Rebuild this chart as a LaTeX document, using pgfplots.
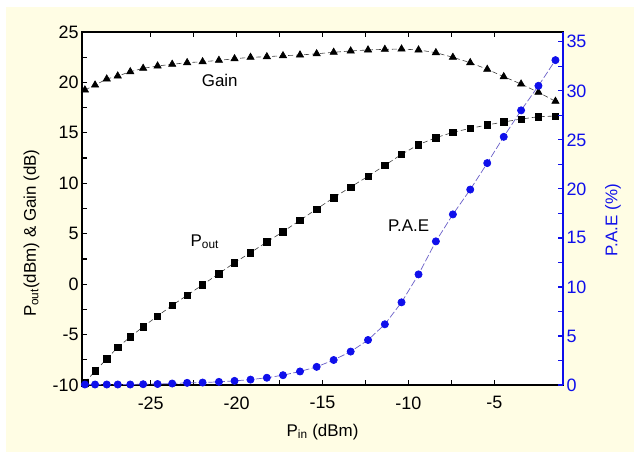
\documentclass[border=0pt]{standalone}
\usepackage{fontspec}
\setmainfont{Liberation Sans}
\usepackage{pgfplots}
\usepackage{pgfplotstable}
\pgfplotsset{compat=1.18}
\definecolor{bgyel}{RGB}{255,253,228}
\definecolor{paeblue}{RGB}{15,15,235}
\definecolor{paeline}{RGB}{105,95,200}

% Pin (dBm), Pout (dBm), Gain (dB), PAE (%)
\pgfplotstableread{
pin    pout   gain   pae
-28.83 -9.77  19.25  0.05
-28.24 -8.61  19.74  0.05
-27.56 -7.42  20.34  0.05
-26.92 -6.26  20.64  0.05
-26.19 -5.24  21.06  0.05
-25.44 -4.22  21.40  0.08
-24.60 -3.16  21.63  0.10
-23.75 -2.10  21.80  0.15
-22.88 -1.11  21.96  0.22
-21.98 -0.06  22.05  0.25
-21.03  1.04  22.19  0.32
-20.12  2.13  22.35  0.42
-19.19  3.12  22.49  0.55
-18.24  4.18  22.55  0.74
-17.30  5.20  22.65  1.00
-16.31  6.33  22.72  1.38
-15.34  7.45  22.84  1.85
-14.35  8.57  22.99  2.55
-13.36  9.63  23.12  3.41
-12.35 10.69  23.22  4.59
-11.37 11.78  23.28  6.19
-10.40 12.87  23.31  8.43
 -9.41 13.83  23.22 11.28
 -8.40 14.52  22.95 14.65
 -7.41 15.05  22.49 17.40
 -6.40 15.45  21.96 19.93
 -5.41 15.78  21.30 22.63
 -4.45 16.08  20.57 25.31
 -3.44 16.37  19.84 28.01
 -2.43 16.60  19.02 30.51
 -1.44 16.67  18.13 33.13
}\datatable

\pgfplotsset{
  common/.style={
    at={(82bp,67bp)}, anchor=south west,
    scale only axis, width=481bp, height=353bp,
    xmin=-29, xmax=-1, clip=false,
    tick align=inside, major tick length=5bp, minor tick length=5bp,
    tick label style={font=\fontsize{18}{21}\selectfont},
    label style={font=\fontsize{17}{20}\selectfont},
    /pgf/number format/assume math mode=true,
  },
}

\begin{document}
\begin{tikzpicture}
\fill[white] (0,0) rectangle (634bp,452bp);
\fill[bgyel] (6bp,0) rectangle (634bp,445bp);

\begin{axis}[common,
  ymin=-10, ymax=25,
  xtick={-25,-20,-15,-10,-5}, minor x tick num=1,
  ytick={-10,-5,...,25}, minor y tick num=1,
  ytick pos=left,
  axis line style={line width=1.6bp},
  every tick/.style={line width=1.2bp, black},
  axis background/.style={fill=white},
  xticklabel style={yshift=-8bp},
  xlabel={P\textsubscript{in} (dBm)},
  xlabel style={yshift=-8bp},
  ylabel={P\textsubscript{out}(dBm) \& Gain (dB)},
  ylabel style={at={(axis description cs:-0.105,0.43)}, anchor=center},
]
\addplot[black!75, line width=0.6bp, dash pattern=on 5bp off 3bp,
  mark=triangle*, mark size=4.2bp, mark options={solid, fill=black, draw=black}]
  table[x=pin, y=gain] {\datatable};
\addplot[black!75, line width=0.6bp, dash pattern=on 5bp off 3bp,
  mark=square*, mark size=3.2bp, mark options={solid, fill=black, draw=black}]
  table[x=pin, y=pout] {\datatable};
\node[font=\fontsize{17}{20}\selectfont] at (axis cs:-20.98,20.2) {Gain};
\node[font=\fontsize{17}{20}\selectfont] at (axis cs:-21.85,4.2) {P\textsubscript{out}};
\node[font=\fontsize{17}{20}\selectfont] at (axis cs:-9.99,5.8) {P.A.E};
\end{axis}

\begin{axis}[common,
  ymin=0, ymax=36,
  axis x line=none, axis y line*=right,
  ytick={0,5,...,35}, minor y tick num=1,
  y axis line style={line width=1.6bp, paeblue},
  every tick/.style={line width=1.2bp, paeblue},
  yticklabel style={text=paeblue},
  ylabel style={text=paeblue, at={(axis description cs:1.104,0.467)}, anchor=center},
  ylabel={P.A.E (\%)},
]
\addplot[paeline, line width=0.7bp, dash pattern=on 7bp off 2.5bp,
  mark=*, mark size=3.6bp, mark options={solid, fill=paeblue, draw=paeblue}]
  table[x=pin, y=pae] {\datatable};
\end{axis}
\pgfresetboundingbox
\useasboundingbox (0,0) rectangle (634bp,452bp);
\end{tikzpicture}
\end{document}
